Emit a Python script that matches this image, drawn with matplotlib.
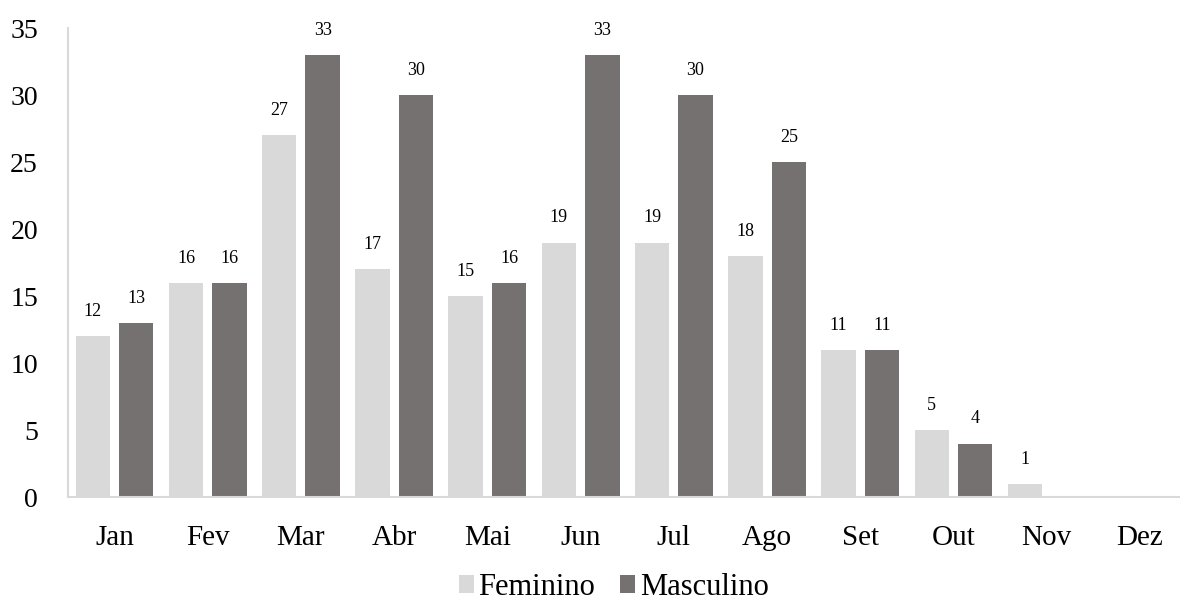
import numpy as np
import matplotlib.pyplot as plt

plt.rcParams['font.family'] = ['Liberation Serif', 'DejaVu Serif']

meses = ['Jan', 'Fev', 'Mar', 'Abr', 'Mai', 'Jun', 'Jul', 'Ago', 'Set', 'Out', 'Nov', 'Dez']
feminino = [12, 16, 27, 17, 15, 19, 19, 18, 11, 5, 1, 0]
masculino = [13, 16, 33, 30, 16, 33, 30, 25, 11, 4, 0, 0]

cor_fem = '#d9d9d9'
cor_masc = '#767171'

fig = plt.figure(figsize=(11.8, 6.1), dpi=100)
ax = fig.add_axes([0.058, 0.185, 0.942, 0.769])

x = np.arange(len(meses))
w = 0.37
b1 = ax.bar(x - 0.233, feminino, w, color=cor_fem, label='Feminino')
b2 = ax.bar(x + 0.233, masculino, w, color=cor_masc, label='Masculino')

# rotulos de valor apenas para meses com casos
for barras, vals in ((b1, feminino), (b2, masculino)):
    for r, v in zip(barras, vals):
        if v > 0:
            ax.text(r.get_x() + r.get_width() / 2, v + 1.2, str(v),
                    ha='center', va='bottom', fontsize=13)

ax.set_xlim(-0.494, 11.43)
ax.set_ylim(0, 35)
ax.set_yticks(range(0, 36, 5))
ax.set_xticks(x)
ax.set_xticklabels(meses)
ax.tick_params(axis='x', length=0, labelsize=21, pad=20)
ax.tick_params(axis='y', length=0, labelsize=20, pad=22)

for s in ['top', 'right']:
    ax.spines[s].set_visible(False)
for s in ['left', 'bottom']:
    ax.spines[s].set_color('#d9d9d9')
    ax.spines[s].set_linewidth(1.5)

fig.legend(handles=[b1, b2], loc='lower center', bbox_to_anchor=(0.52, -0.032),
           ncol=2, frameon=False, fontsize=22, handlelength=0.5, handleheight=0.5,
           handletextpad=0.15, columnspacing=0.8)

fig.savefig('out.png', dpi=100)
